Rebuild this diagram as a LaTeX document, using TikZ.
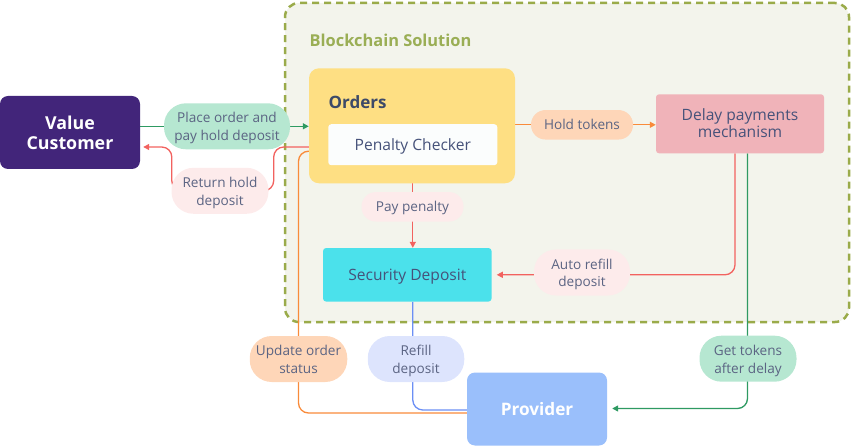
\documentclass[tikz,border=0pt]{standalone}
\usepackage{fontspec}
\setmainfont{Open Sans}
\usetikzlibrary{arrows.meta,calc}
\pgfdeclarelayer{back}
\pgfdeclarelayer{lines}
\pgfsetlayers{back,lines,main}
\newcommand{\lowtxt}[2][2pt]{\raisebox{-#1}[\height][\depth]{\begin{tabular}{@{}c@{}}#2\end{tabular}}}
\definecolor{solbg}{HTML}{F3F4EC}
\definecolor{soldash}{HTML}{9AAB4A}
\definecolor{soltitle}{HTML}{9AAE55}
\definecolor{vcfill}{HTML}{42257A}
\definecolor{ordfill}{HTML}{FEDF83}
\definecolor{pcfill}{HTML}{FBFDFD}
\definecolor{dpfill}{HTML}{F0B3B9}
\definecolor{sdfill}{HTML}{4BE1EB}
\definecolor{provfill}{HTML}{9ABFFB}
\definecolor{maintxt}{HTML}{46527A}
\definecolor{ordtxt}{HTML}{3D4A68}
\definecolor{labtxt}{HTML}{5B6483}
\definecolor{mint}{HTML}{B6E7D1}
\definecolor{pinkl}{HTML}{FDEBEB}
\definecolor{peach}{HTML}{FED6B8}
\definecolor{bluel}{HTML}{DDE4FD}
\definecolor{gline}{HTML}{2E9A62}
\definecolor{rline}{HTML}{F2625F}
\definecolor{oline}{HTML}{F98B3A}
\definecolor{bline}{HTML}{6B8FF5}
\begin{document}
\begin{tikzpicture}[x=1pt,y=-1pt,
  box/.style={rectangle, rounded corners=8pt, inner sep=0pt, align=center, text=maintxt, font=\fontsize{15.6}{17}\selectfont},
  lab/.style={rectangle, inner sep=0pt, align=center, text=labtxt, font=\fontsize{13.6}{17.8}\selectfont},
  twoline/.style={lab, rounded corners=22pt, minimum height=46pt},
  oneline/.style={lab, rounded corners=14.5pt, minimum height=29.5pt},
  conn/.style={line width=1.3pt, rounded corners=10pt},
  tip/.style={-{Triangle[length=6pt,width=6pt]}}
]
\useasboundingbox (0,0) rectangle (851,446);

\begin{pgfonlayer}{back}
\node[draw=soldash, fill=solbg, line width=2.5pt, dash pattern=on 7pt off 5pt,
      rounded corners=14pt, minimum width=564pt, minimum height=319pt, inner sep=0pt] (sol) at (567,162.5) {};
\end{pgfonlayer}
\node[anchor=west, text=soltitle, inner sep=0pt, font=\bfseries\fontsize{16.4}{18}\selectfont] (title) at (309.5,40.5) {Blockchain Solution};

% main boxes
\node[box, fill=vcfill, minimum width=140pt, minimum height=73pt, text=white,
      font=\bfseries\fontsize{17.8}{20}\selectfont] (vc) at (70,132.5) {\lowtxt[2.8pt]{Value\\Customer}};
\node[box, fill=ordfill, rounded corners=10pt, minimum width=206pt, minimum height=115pt] (orders) at (412,125.8) {};
\node[anchor=west, inner sep=0pt, text=ordtxt, font=\bfseries\fontsize{17}{19}\selectfont] (ordtitle) at (328.5,102.5) {Orders};
\node[box, fill=pcfill, rounded corners=3pt, minimum width=169pt, minimum height=41pt] (pc) at (412.8,144.7) {\lowtxt{Penalty Checker}};
\node[box, fill=dpfill, rounded corners=3pt, minimum width=168pt, minimum height=59pt] (dp) at (740,123.8) {\lowtxt[1.5pt]{Delay payments\\mechanism}};
\node[box, fill=sdfill, rounded corners=3pt, minimum width=168.5pt, minimum height=53.5pt] (sd) at (407.3,274.8) {\lowtxt{Security Deposit}};
\node[box, fill=provfill, minimum width=140pt, minimum height=73pt, text=white,
      font=\bfseries\fontsize{17.2}{20}\selectfont] (prov) at (537,409) {\lowtxt[2.5pt]{Provider}};

% labels
\node[twoline, fill=mint, minimum width=126pt] (lplace) at (227,126.3) {\lowtxt[2pt]{Place order and\\pay hold deposit}};
\node[twoline, fill=pinkl, minimum width=97pt] (lreturn) at (220,190.8) {\lowtxt[2pt]{Return hold\\deposit}};
\node[oneline, fill=peach, minimum width=102pt] (lhold) at (582,124.8) {\lowtxt[1.5pt]{Hold tokens}};
\node[oneline, fill=pinkl, minimum width=102pt] (lpay) at (412.5,206.8) {\lowtxt[1.5pt]{Pay penalty}};
\node[twoline, fill=pinkl, minimum width=96pt] (lauto) at (582,272.5) {\lowtxt[2pt]{Auto refill\\deposit}};
\node[twoline, fill=peach, minimum width=97.5pt] (lupdate) at (298.5,359) {\lowtxt[2pt]{Update order\\status}};
\node[twoline, fill=bluel, minimum width=96.5pt] (lrefill) at (416,359) {\lowtxt[2pt]{Refill\\deposit}};
\node[twoline, fill=mint, minimum width=97pt] (lget) at (748,358.7) {\lowtxt[2pt]{Get tokens\\after delay}};

% connectors
\begin{pgfonlayer}{lines}
\draw[conn, gline, tip] (vc.east |- lplace) -- (orders.west |- lplace);
\coordinate (rs) at ($(pc.west)+(0,2.3)$);
\coordinate (r1) at ($(lreturn.east |- rs)+(5,0)$);
\coordinate (r2) at ($(lreturn.east)+(5,0)$);
\coordinate (r3) at ($(lreturn.west)+(0.5,0)$);
\coordinate (r4) at ($(lreturn.west |- rs)+(0.5,0)$);
\coordinate (re) at ($(vc.east |- rs)+(3,0)$);
\draw[conn, rline, tip] (rs) -- (r1) -- (r2) -- (r3) -- (r4) -- (re);
\coordinate (os) at ($(prov.west)+(0,4)$);
\coordinate (oe) at ($(pc.west)+(-1,6.5)$);
\draw[conn, oline, tip] (os) -| (lupdate.center) |- (oe);
\draw[conn, bline] ($(sd.south)+(5.5,0)$) |- ($(prov.west)+(0,1)$);
\draw[conn, gline, tip] ($(dp.south)+(7.5,0)$) |- ($(prov.east)+(5,-0.5)$);
\draw[conn, rline, tip] ($(dp.south)+(-5,0)$) |- ($(sd.east)+(5,0)$);
\draw[conn, oline, tip] (orders.east |- lhold) -- (dp.west |- lhold);
\draw[conn, rline, tip] (pc.south) -- (pc.south |- sd.north);
\end{pgfonlayer}
\end{tikzpicture}
\end{document}
